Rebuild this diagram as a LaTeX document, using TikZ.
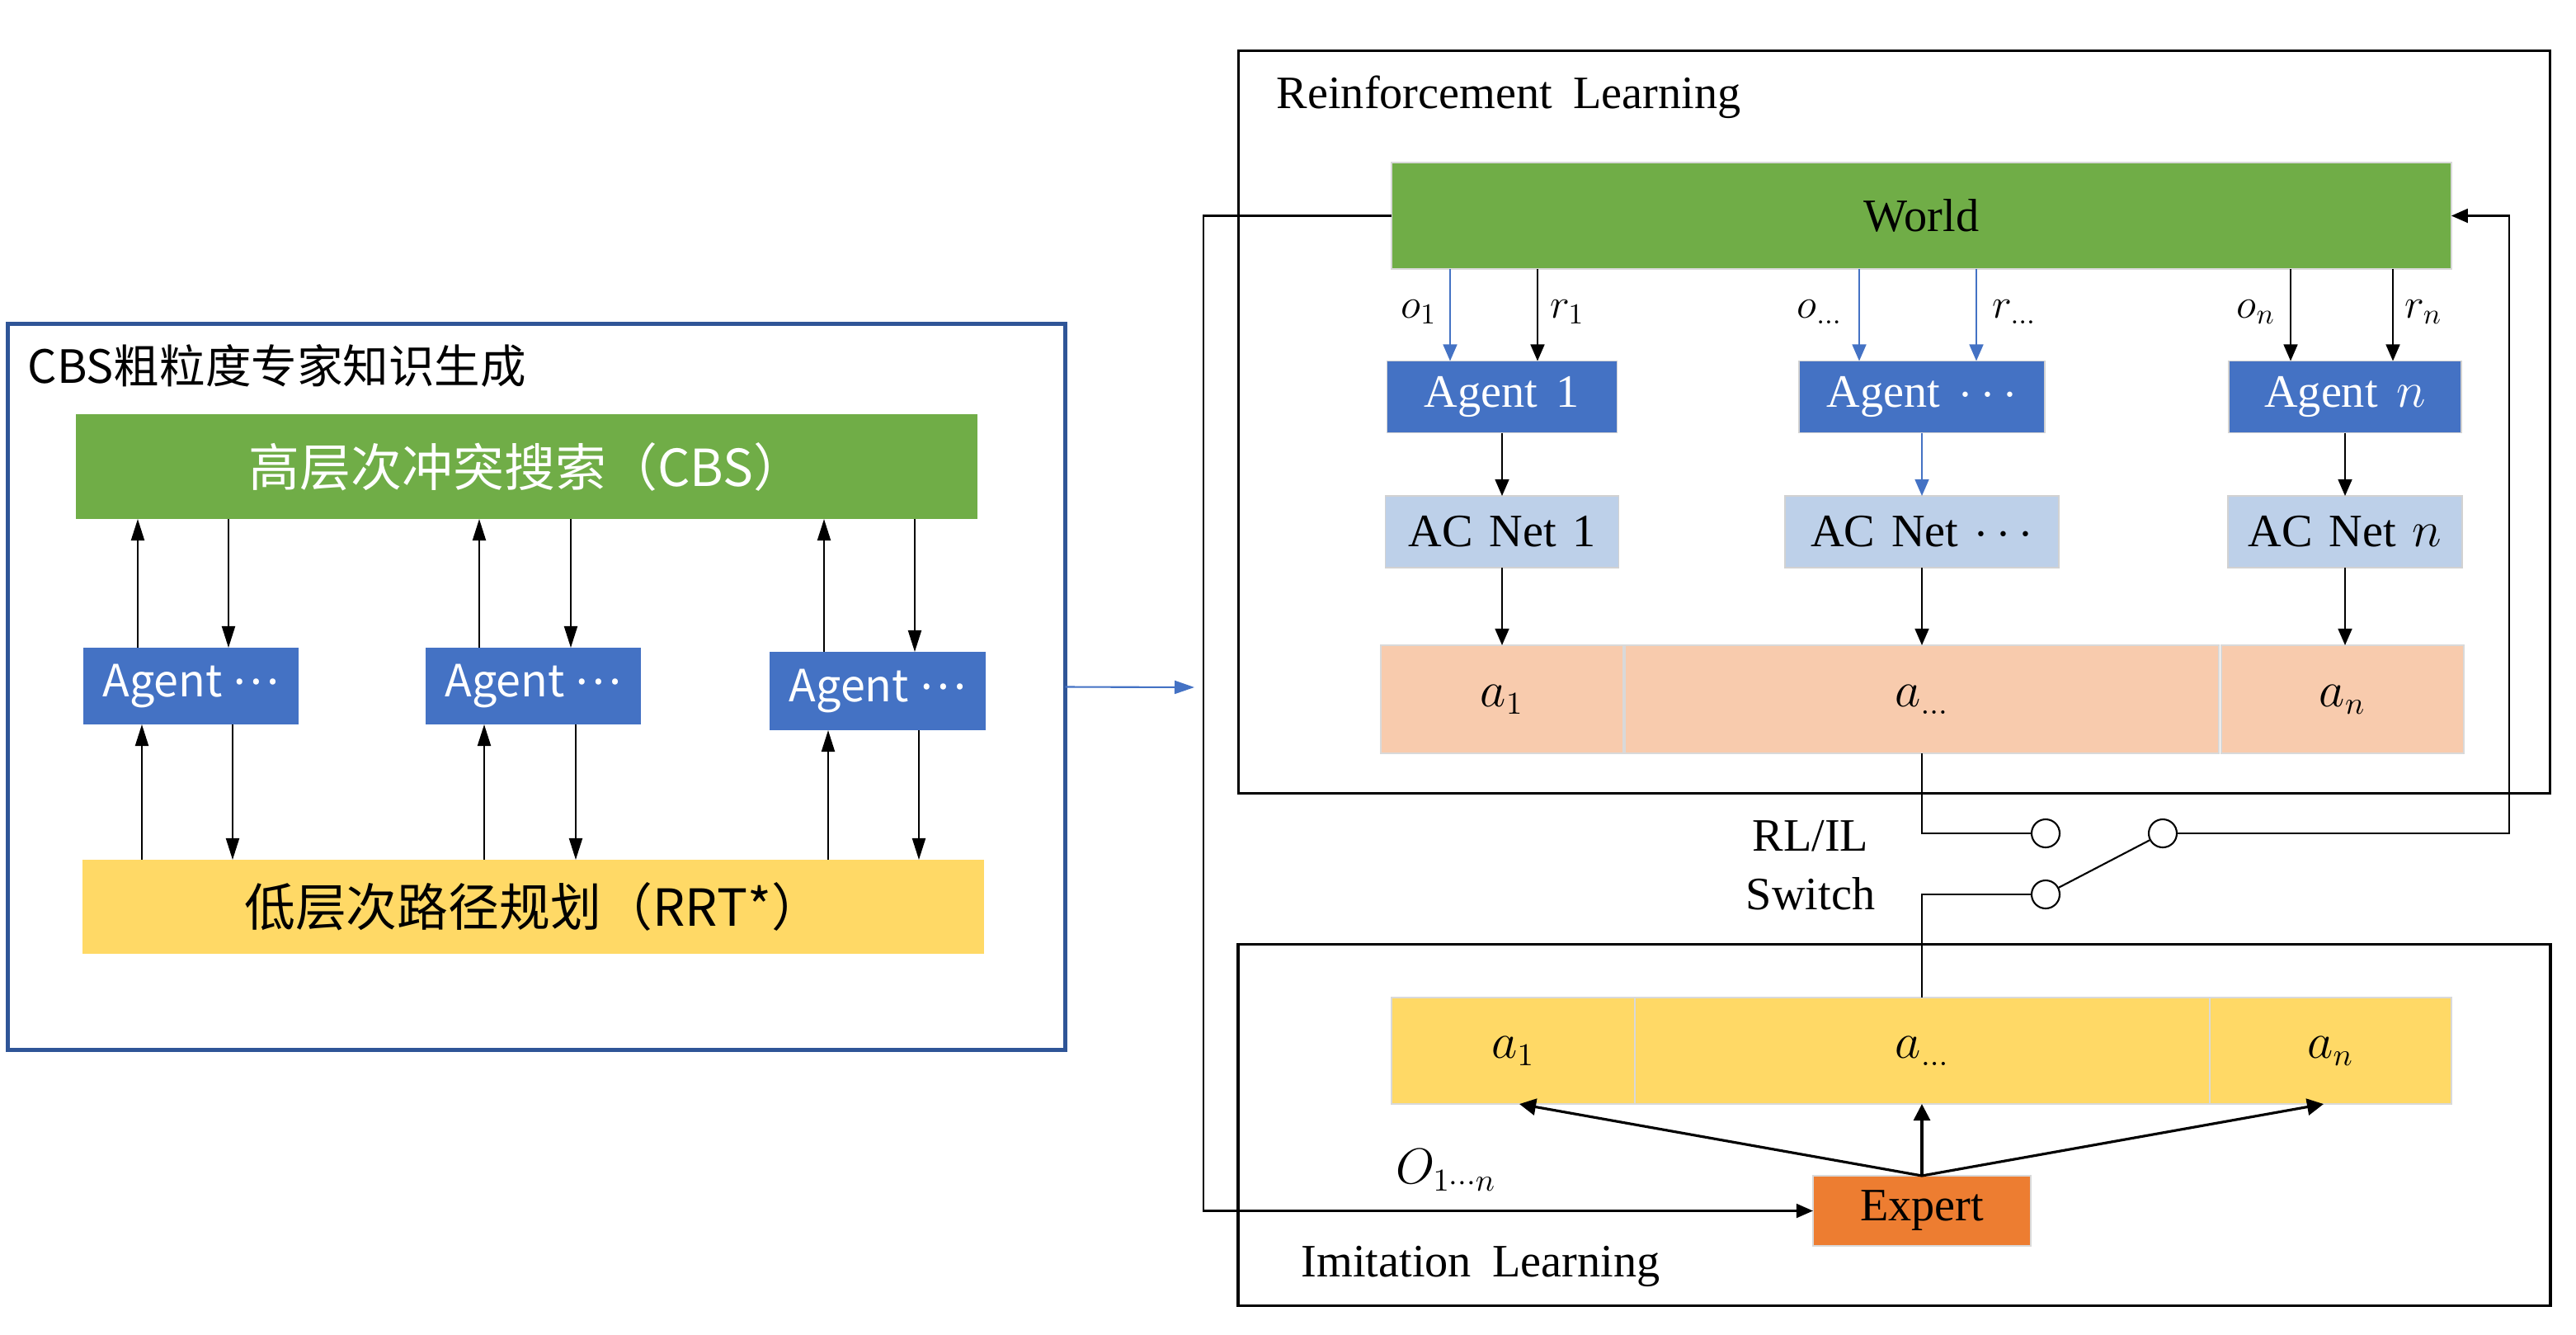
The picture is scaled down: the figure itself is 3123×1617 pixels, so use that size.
\documentclass[tikz,border=0pt]{standalone}
\usepackage{fontspec}
\setmainfont{Liberation Serif}
\newfontfamily\cjk{Noto Sans CJK SC}
\usetikzlibrary{arrows.meta}
\definecolor{cgreen}{HTML}{70AD47}
\definecolor{cblue}{HTML}{4472C4}
\definecolor{cyellow}{HTML}{FFD966}
\definecolor{clblue}{HTML}{BDD0E9}
\definecolor{cpeach}{HTML}{F8CBAD}
\definecolor{corange}{HTML}{ED7D31}
\definecolor{cframe}{HTML}{2F5597}
\newcommand{\middots}{\raisebox{0.28em}{…}}
\begin{document}
\begin{tikzpicture}[x=0.01cm,y=-0.01cm,
  box/.style={rectangle,inner sep=0pt,outer sep=0pt},
  lfont/.style={font=\cjk\fontsize{15.3}{18}\selectfont},
  rfont/.style={font=\fontsize{16}{19}\selectfont},
  lagent/.style={box,fill=cblue,text=white,lfont,minimum width=2.61cm,minimum height=0.93cm},
  ragent/.style={box,fill=cblue,text=white,rfont,draw=gray!35,line width=0.4pt,minimum height=0.87cm},
  acnet/.style={box,fill=clblue,text=black,rfont,draw=gray!35,line width=0.4pt,minimum height=0.87cm},
  actbox/.style={box,fill=cpeach,draw=gray!30,line width=0.5pt,minimum height=1.31cm,rfont},
  ilbox/.style={box,fill=cyellow,draw=gray!30,line width=0.5pt,minimum height=1.29cm,rfont},
  frame/.style={box,draw=black,line width=0.9pt},
  larr/.style={-{Triangle[length=0.26cm,width=0.16cm]},line width=0.6pt},
  rarr/.style={-{Triangle[length=0.2cm,width=0.17cm]},line width=0.45pt},
  rarrb/.style={rarr,draw=cblue,-{Triangle[length=0.2cm,width=0.17cm,fill=cblue]}},
  earr/.style={-{Triangle[length=0.2cm,width=0.2cm]},line width=0.9pt},
  wire/.style={line width=0.6pt},
  sw/.style={circle,draw=black,fill=white,line width=0.6pt,minimum size=0.34cm,inner sep=0pt},
  lab/.style={font=\fontsize{14}{17}\selectfont,inner sep=0pt}]
\useasboundingbox (0,0) rectangle (3123,1617);

% ---------------- left panel ----------------
\node[box,draw=cframe,line width=1.4pt,minimum width=12.81cm,minimum height=8.79cm] (Lpanel) at (650.5,832.5) {};
\node[anchor=west,inner sep=0pt,font=\cjk\fontsize{15.8}{18}\selectfont] (Ltitle) at (33,443) {CBS粗粒度专家知识生成};
\node[box,fill=cgreen,text=white,minimum width=10.93cm,minimum height=1.27cm,font=\cjk\fontsize{17.6}{20}\selectfont] (cbs) at (638.5,565.5) {高层次冲突搜索（CBS）};
\node[lagent] (LA1) at (231.5,831.5) {Agent \middots};
\node[lagent] (LA2) at (646.5,831.5) {Agent \middots};
\node[lagent,minimum height=0.95cm] (LA3) at (1064,837.5) {Agent \middots};
\node[box,fill=cyellow,text=black,minimum width=10.93cm,minimum height=1.14cm,font=\cjk\fontsize{17.6}{20}\selectfont] (rrt) at (646.5,1099) {低层次路径规划（RRT*）};

\foreach \ag/\xa/\xb/\xc/\xd in {LA1/167/277/172/282, LA2/581/692/587/698, LA3/999/1109/1004/1114}{
  \draw[larr] (\ag.north -| \xa,0) -- (cbs.south -| \xa,0);
  \draw[larr] (cbs.south -| \xb,0) -- (\ag.north -| \xb,0);
  \draw[larr] (rrt.north -| \xc,0) -- (\ag.south -| \xc,0);
  \draw[larr] (\ag.south -| \xd,0) -- (rrt.north -| \xd,0);
}

\coordinate (Rin) at (1448,833);
\draw[line width=0.6pt,draw=cblue,-{Triangle[length=0.24cm,width=0.16cm,fill=cblue]}] (Lpanel.east) -- (Rin);

% ---------------- right panel ----------------
\node[frame,minimum width=15.89cm,minimum height=8.99cm] (RLframe) at (2296.5,511.5) {};
\node[frame,minimum width=15.9cm,minimum height=4.37cm] (ILframe) at (2296.5,1363.5) {};
\node[anchor=west,inner sep=0pt,rfont] (RLtitle) at (1547,118) {Reinforcement\hspace{0.45em}Learning};
\node[anchor=west,inner sep=0pt,rfont] (ILtitle) at (1577,1535) {Imitation\hspace{0.45em}Learning};

\node[box,fill=cgreen,draw=gray!30,line width=0.4pt,minimum width=12.84cm,minimum height=1.29cm,rfont] (World) at (2329.5,261.5) {World};

\node[ragent,minimum width=2.79cm] (AR1) at (1821,481) {Agent\hspace{0.4em}1};
\node[ragent,minimum width=2.98cm] (AR2) at (2330,481) {Agent\hspace{0.4em}$\cdots$};
\node[ragent,minimum width=2.82cm] (AR3) at (2843,481) {Agent\hspace{0.4em}$n$};

\node[acnet,minimum width=2.83cm] (AC1) at (1821,644.5) {AC\hspace{0.35em}Net\hspace{0.35em}1};
\node[acnet,minimum width=3.32cm] (AC2) at (2330,644.5) {AC\hspace{0.35em}Net\hspace{0.35em}$\cdots$};
\node[acnet,minimum width=2.84cm] (AC3) at (2843,644.5) {AC\hspace{0.35em}Net\hspace{0.35em}$n$};

\node[actbox,minimum width=2.94cm] (A1) at (1821,847.5) {$a_1$};
\node[actbox,minimum width=7.2cm] (A2) at (2330,847.5) {$a_{\dots}$};
\node[actbox,minimum width=2.94cm] (A3) at (2840,847.5) {$a_n$};

\node[ilbox,minimum width=2.95cm] (B1) at (1834.5,1273.5) {$a_1$};
\node[ilbox,minimum width=6.97cm] (B2) at (2330.5,1273.5) {$a_{\dots}$};
\node[ilbox,minimum width=2.93cm] (B3) at (2825.5,1273.5) {$a_n$};

\node[box,fill=corange,draw=gray!30,line width=0.4pt,minimum width=2.64cm,minimum height=0.85cm,rfont] (Expert) at (2330,1467.5) {Expert};

\node[lab] (lo1) at (1720,378) {$o_1$};
\node[lab] (lr1) at (1900,378) {$r_1$};
\node[lab] (lo2) at (2206,378) {$o_{\dots}$};
\node[lab] (lr2) at (2442,378) {$r_{\dots}$};
\node[lab] (lo3) at (2735,378) {$o_n$};
\node[lab] (lr3) at (2938,378) {$r_n$};
\node[inner sep=0pt,font=\fontsize{16}{19}\selectfont] (lO) at (1753,1418) {$O_{1\cdots n}$};

\node[rfont,inner sep=0pt] (swt1) at (2195,1013) {RL/IL};
\node[rfont,inner sep=0pt] (swt2) at (2195,1083) {Switch};

\node[sw] (c1) at (2480,1010) {};
\node[sw] (c2) at (2622,1010) {};
\node[sw] (c3) at (2480,1084) {};

% world -> agents
\draw[rarrb] (World.south -| 1758,0) -- (AR1.north -| 1758,0);
\draw[rarr]  (World.south -| 1864,0) -- (AR1.north -| 1864,0);
\draw[rarrb] (World.south -| 2254,0) -- (AR2.north -| 2254,0);
\draw[rarrb] (World.south -| 2396,0) -- (AR2.north -| 2396,0);
\draw[rarr]  (World.south -| 2777,0) -- (AR3.north -| 2777,0);
\draw[rarr]  (World.south -| 2901,0) -- (AR3.north -| 2901,0);

% agents -> AC nets -> actions
\draw[rarr]  (AR1.south) -- (AC1.north);
\draw[rarrb] (AR2.south) -- (AC2.north);
\draw[rarr]  (AR3.south) -- (AC3.north);
\draw[rarr]  (AC1.south) -- (A1.north -| AC1.south);
\draw[rarr]  (AC2.south) -- (A2.north);
\draw[rarr]  (AC3.south) -- (A3.north -| AC3.south);

% switch wiring
\draw[wire] (A2.south) |- (c1.west);
\draw[wire] (c3.west) -| (B2.north -| A2.south);
\draw[wire] (c3) -- (c2);
\draw[wire,-{Triangle[length=0.2cm,width=0.17cm]}] (c2.east) -| (3042,0 |- World.east) -- (World.east);
\draw[wire,-{Triangle[length=0.2cm,width=0.17cm]}] (World.west) -| (1459,0 |- Expert.west) -- (Expert.west);

% expert -> actions
\draw[earr] (Expert.north) -- (B1.south -| 1842,0);
\draw[earr] (Expert.north) -- (B2.south -| Expert.north);
\draw[earr] (Expert.north) -- (B3.south -| 2817,0);
\end{tikzpicture}
\end{document}
